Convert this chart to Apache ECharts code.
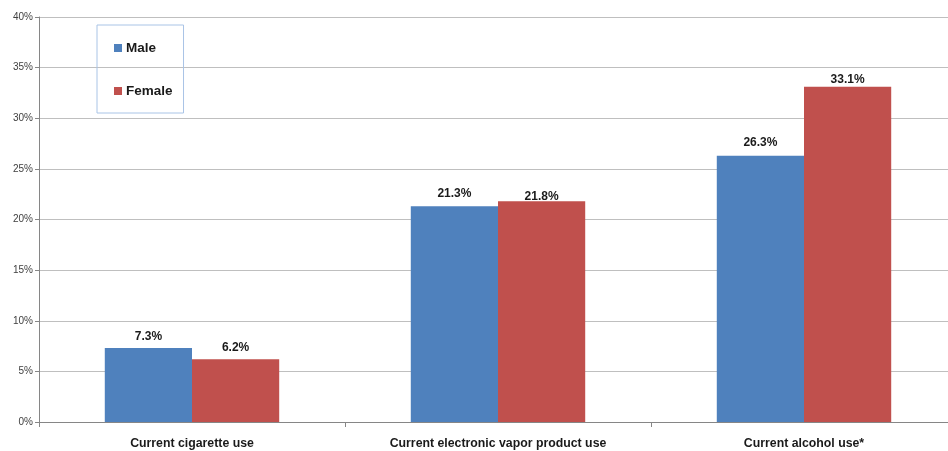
<!DOCTYPE html>
<html>
<head>
<meta charset="utf-8">
<script src="https://cdn.jsdelivr.net/npm/echarts@6/dist/echarts.min.js"></script>
<style>
  html, body { margin: 0; padding: 0; background: #fff; overflow: hidden; }
  #wrap { width: 948px; height: 451px; overflow: hidden; }
  /* plot area runs slightly past the right edge of the view */
  #chart { width: 960px; height: 451px; }
</style>
</head>
<body>
<div id="wrap"><div id="chart"></div></div>
<script>
// Youth substance use by sex (percent)
const categories = ['Current cigarette use', 'Current electronic vapor product use', 'Current alcohol use*'];
const maleValues = [7.3, 21.3, 26.3];
const femaleValues = [6.2, 21.8, 33.1];
const seriesNames = ['Male', 'Female'];

// gap between each bar top and its value label, in px
const maleLabelGap = [5, 7, 7];
const femaleLabelGap = [6, -1, 1];

const FONT = "'Liberation Sans', Arial, sans-serif";

const chart = echarts.init(document.getElementById('chart'), null, { renderer: 'canvas' });

const valueLabel = {
  show: true,
  position: 'top',
  distance: 8,
  formatter: p => p.value.toFixed(1) + '%',
  fontFamily: FONT,
  fontWeight: 'bold',
  fontSize: 12,
  color: '#1a1a1a'
};

const withLabelGap = (values, gaps) =>
  values.map((v, i) => ({ value: v, label: { distance: gaps[i] } }));

chart.setOption({
  animation: false,
  backgroundColor: '#ffffff',
  grid: { left: 39, top: 17, right: 3, bottom: 29, containLabel: false },
  legend: {
    orient: 'vertical',
    left: 97,
    top: 25,
    data: seriesNames,
    icon: 'rect',
    itemWidth: 8,
    itemHeight: 8,
    itemGap: 29,
    padding: [16, 11, 15, 17],
    borderColor: '#a9c4e6',
    borderWidth: 1,
    textStyle: { fontFamily: FONT, fontWeight: 'bold', fontSize: 13.5, color: '#1a1a1a', padding: [0, 0, 0, -1] }
  },
  xAxis: {
    type: 'category',
    data: categories,
    axisLine: { lineStyle: { color: '#868686' } },
    axisTick: { show: true, length: 5, lineStyle: { color: '#868686' } },
    axisLabel: { fontFamily: FONT, fontWeight: 'bold', fontSize: 12.3, color: '#1a1a1a', margin: 16, interval: 0 }
  },
  yAxis: {
    type: 'value',
    min: 0,
    max: 40,
    interval: 5,
    axisLine: { show: true, lineStyle: { color: '#868686' } },
    axisTick: { show: true, length: 4, lineStyle: { color: '#868686' } },
    axisLabel: { formatter: '{value}%', fontFamily: FONT, fontSize: 10, color: '#404040', margin: 6 },
    splitLine: { lineStyle: { color: '#bfbfbf' } }
  },
  series: [
    {
      name: seriesNames[0],
      type: 'bar',
      data: withLabelGap(maleValues, maleLabelGap),
      barGap: '0%',
      barCategoryGap: '43%',
      itemStyle: { color: '#4f81bd' },
      label: valueLabel
    },
    {
      name: seriesNames[1],
      type: 'bar',
      data: withLabelGap(femaleValues, femaleLabelGap),
      itemStyle: { color: '#c0504d' },
      label: valueLabel
    }
  ]
});
</script>
</body>
</html>
